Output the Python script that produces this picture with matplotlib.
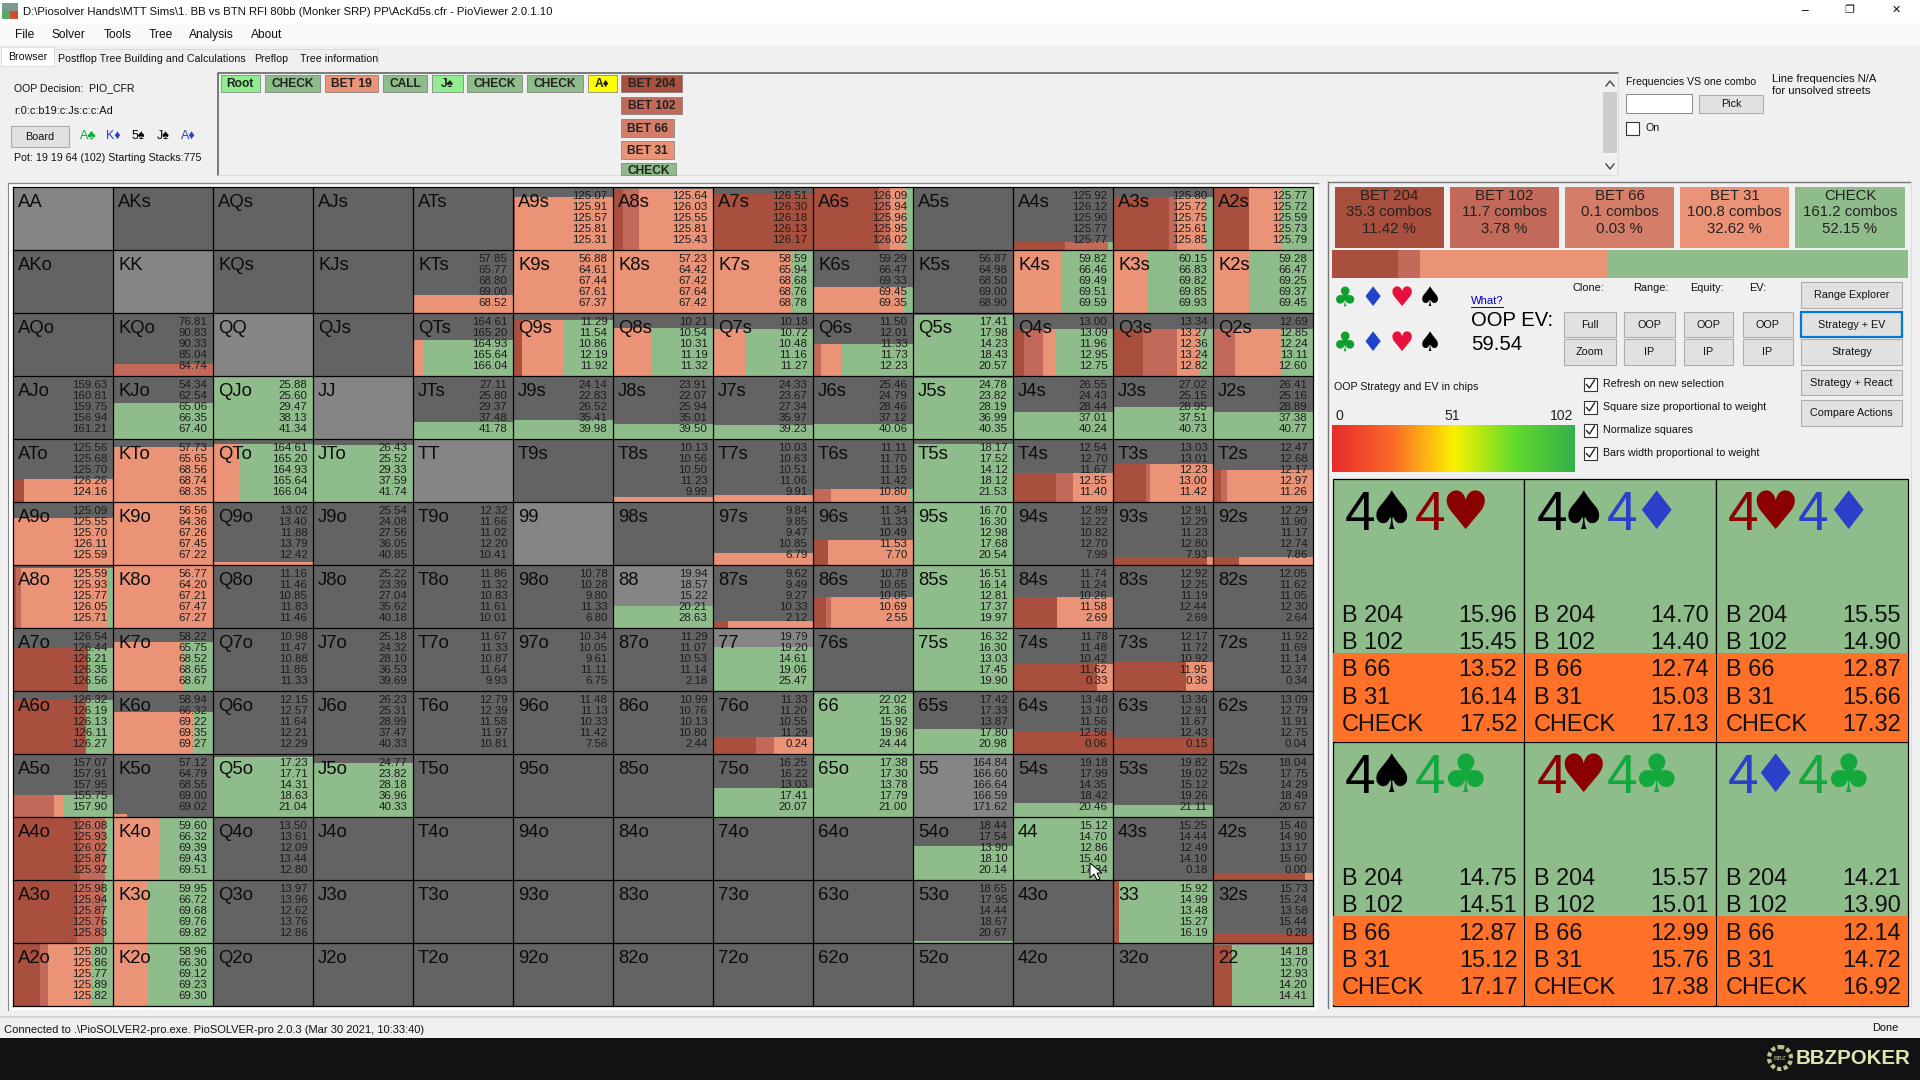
import matplotlib
matplotlib.use("Agg")
import matplotlib.pyplot as plt
from matplotlib.colors import LinearSegmentedColormap
from matplotlib.patches import Rectangle, Polygon, Circle
import numpy as np

plt.rcParams['font.family'] = ['Liberation Sans', 'DejaVu Sans']

RANKS = list("AKQJT98765432")

# colours of the five actions
ACTION_COLORS = ["#a84f3e", "#c2695a", "#d47e69", "#ea9377", "#8fbc8b"]
ACTION_NAMES = ["BET 204", "BET 102", "BET 66", "BET 31", "CHECK"]
ACTION_COMBOS = [35.3, 11.7, 0.1, 100.8, 161.2]
ACTION_PERCENT = [11.42, 3.78, 0.03, 32.62, 52.15]

# EV lines per hand: bet 204, bet 102, bet 66, bet 31, check
EVS = {
    "A9s": [125.07, 125.91, 125.57, 125.81, 125.31], "A8s": [125.64, 126.03, 125.55, 125.81, 125.43],
    "A7s": [126.51, 126.30, 126.18, 126.13, 126.17], "A6s": [126.09, 125.94, 125.96, 125.95, 126.02],
    "A4s": [125.92, 126.12, 125.90, 125.77, 125.77], "A3s": [125.80, 125.72, 125.75, 125.61, 125.85],
    "A2s": [125.77, 125.72, 125.59, 125.73, 125.79],
    "KTs": [57.85, 65.77, 68.80, 69.00, 68.52], "K9s": [56.88, 64.61, 67.44, 67.61, 67.37],
    "K8s": [57.23, 64.42, 67.42, 67.64, 67.42], "K7s": [58.59, 65.94, 68.68, 68.76, 68.78],
    "K6s": [59.29, 66.47, 69.33, 69.45, 69.35], "K5s": [56.87, 64.98, 68.50, 69.00, 68.90],
    "K4s": [59.82, 66.46, 69.49, 69.51, 69.59], "K3s": [60.15, 66.83, 69.82, 69.85, 69.93],
    "K2s": [59.28, 66.47, 69.25, 69.37, 69.45],
    "KQo": [76.81, 90.83, 90.33, 85.04, 84.74], "QTs": [164.61, 165.20, 164.93, 165.64, 166.04],
    "Q9s": [11.29, 11.54, 10.86, 12.19, 11.92], "Q8s": [10.21, 10.54, 10.31, 11.19, 11.32],
    "Q7s": [10.18, 10.72, 10.48, 11.16, 11.27], "Q6s": [11.50, 12.01, 11.33, 11.73, 12.23],
    "Q5s": [17.41, 17.98, 14.23, 18.43, 20.57], "Q4s": [13.00, 13.09, 11.96, 12.95, 12.75],
    "Q3s": [13.34, 13.27, 12.36, 13.24, 12.82], "Q2s": [12.69, 12.85, 12.24, 13.11, 12.60],
    "AJo": [159.63, 160.81, 159.75, 156.94, 161.21], "KJo": [54.34, 62.54, 65.06, 66.35, 67.40],
    "QJo": [25.88, 25.60, 29.47, 38.13, 41.34], "JTs": [27.11, 25.80, 29.37, 37.48, 41.78],
    "J9s": [24.14, 22.83, 26.52, 35.41, 39.98], "J8s": [23.91, 22.07, 25.94, 35.01, 39.50],
    "J7s": [24.33, 23.67, 27.34, 35.97, 39.23], "J6s": [25.46, 24.79, 28.46, 37.12, 40.06],
    "J5s": [24.78, 23.82, 28.19, 36.99, 40.35], "J4s": [26.55, 24.43, 28.44, 37.01, 40.24],
    "J3s": [27.02, 25.15, 28.95, 37.51, 40.73], "J2s": [26.41, 25.16, 28.89, 37.38, 40.77],
    "ATo": [125.56, 125.68, 125.70, 126.26, 124.16], "KTo": [57.73, 65.65, 68.56, 68.74, 68.35],
    "QTo": [164.61, 165.20, 164.93, 165.64, 166.04], "JTo": [26.43, 25.52, 29.33, 37.59, 41.74],
    "T8s": [10.13, 10.56, 10.50, 11.23, 9.99], "T7s": [10.03, 10.63, 10.51, 11.06, 9.91],
    "T6s": [11.11, 11.70, 11.15, 11.42, 10.80], "T5s": [18.17, 17.52, 14.12, 18.12, 21.53],
    "T4s": [12.54, 12.70, 11.67, 12.55, 11.40], "T3s": [13.03, 13.01, 12.23, 13.00, 11.42],
    "T2s": [12.47, 12.68, 12.17, 12.97, 11.26],
    "A9o": [125.09, 125.55, 125.70, 126.11, 125.59], "K9o": [56.56, 64.36, 67.26, 67.45, 67.22],
    "Q9o": [13.02, 13.40, 11.88, 13.79, 12.42], "J9o": [25.54, 24.08, 27.56, 36.05, 40.85],
    "T9o": [12.32, 11.66, 11.02, 12.20, 10.41], "97s": [9.84, 9.85, 9.47, 10.85, 6.79],
    "96s": [11.34, 11.33, 10.49, 11.53, 7.70], "95s": [16.70, 16.30, 12.98, 17.68, 20.54],
    "94s": [12.89, 12.22, 10.82, 12.70, 7.99], "93s": [12.91, 12.29, 11.23, 12.80, 7.93],
    "92s": [12.29, 11.90, 11.17, 12.74, 7.86],
    "A8o": [125.59, 125.93, 125.77, 126.05, 125.71], "K8o": [56.77, 64.20, 67.21, 67.47, 67.27],
    "Q8o": [11.16, 11.46, 10.85, 11.83, 11.46], "J8o": [25.22, 23.39, 27.04, 35.62, 40.18],
    "T8o": [11.86, 11.32, 10.83, 11.61, 10.01], "98o": [10.78, 10.28, 9.80, 11.33, 6.80],
    "88": [19.94, 18.57, 15.22, 20.21, 28.63], "87s": [9.62, 9.49, 9.27, 10.33, 2.12],
    "86s": [10.78, 10.65, 10.05, 10.69, 2.55], "85s": [16.51, 16.14, 12.81, 17.37, 19.97],
    "84s": [11.74, 11.24, 10.26, 11.58, 2.69], "83s": [12.92, 12.25, 11.19, 12.44, 2.69],
    "82s": [12.05, 11.62, 11.05, 12.30, 2.64],
    "A7o": [126.54, 126.44, 126.21, 126.35, 126.56], "K7o": [58.22, 65.75, 68.52, 68.65, 68.67],
    "Q7o": [10.98, 11.47, 10.88, 11.85, 11.33], "J7o": [25.18, 24.32, 28.10, 36.53, 39.69],
    "T7o": [11.67, 11.33, 10.87, 11.64, 9.93], "97o": [10.34, 10.05, 9.61, 11.11, 6.75],
    "87o": [11.29, 11.07, 10.53, 11.14, 2.18], "77": [19.79, 19.20, 14.61, 19.06, 25.47],
    "75s": [16.32, 16.30, 13.03, 17.45, 19.90], "74s": [11.78, 11.48, 10.42, 11.62, 0.33],
    "73s": [12.17, 11.72, 10.92, 11.95, 0.36], "72s": [11.92, 11.69, 11.14, 12.37, 0.34],
    "A6o": [126.32, 126.19, 126.13, 126.11, 126.27], "K6o": [58.94, 66.32, 69.22, 69.35, 69.27],
    "Q6o": [12.15, 12.57, 11.64, 12.21, 12.29], "J6o": [26.23, 25.31, 28.99, 37.47, 40.33],
    "T6o": [12.79, 12.39, 11.58, 11.97, 10.81], "96o": [11.48, 11.13, 10.33, 11.42, 7.56],
    "86o": [10.99, 10.76, 10.13, 10.80, 2.44], "76o": [11.33, 11.20, 10.55, 11.29, 0.24],
    "66": [22.02, 21.36, 15.92, 19.96, 24.44], "65s": [17.42, 17.33, 13.87, 17.80, 20.98],
    "64s": [13.48, 13.10, 11.56, 12.56, 0.06], "63s": [13.36, 12.91, 11.67, 12.43, 0.15],
    "62s": [13.09, 12.79, 11.91, 12.75, 0.04],
    "A5o": [157.07, 157.91, 157.95, 155.75, 157.90], "K5o": [57.12, 64.79, 68.55, 69.00, 69.02],
    "Q5o": [17.23, 17.71, 14.31, 18.63, 21.04], "J5o": [24.77, 23.82, 28.18, 36.96, 40.33],
    "75o": [16.25, 16.22, 13.03, 17.41, 20.07], "65o": [17.38, 17.30, 13.78, 17.79, 21.00],
    "55": [164.84, 166.60, 166.64, 166.59, 171.62], "54s": [19.18, 17.99, 14.35, 18.42, 20.46],
    "53s": [19.82, 19.02, 15.12, 19.26, 21.11], "52s": [18.04, 17.75, 14.29, 18.49, 20.67],
    "A4o": [126.08, 125.93, 126.02, 125.87, 125.92], "K4o": [59.60, 66.32, 69.39, 69.43, 69.51],
    "Q4o": [13.50, 13.61, 12.09, 13.44, 12.80], "54o": [18.44, 17.54, 13.90, 18.10, 20.14],
    "44": [15.12, 14.70, 12.86, 15.40, 17.34], "43s": [15.25, 14.44, 12.49, 14.10, 0.18],
    "42s": [15.40, 14.90, 13.17, 15.60, 0.00],
    "A3o": [125.98, 125.94, 125.87, 125.76, 125.83], "K3o": [59.95, 66.72, 69.68, 69.76, 69.82],
    "Q3o": [13.97, 13.96, 12.62, 13.76, 12.86], "53o": [18.65, 17.95, 14.44, 18.67, 20.67],
    "33": [15.92, 14.99, 13.48, 15.27, 16.19], "32s": [15.73, 15.24, 13.58, 15.44, 0.28],
    "A2o": [125.80, 125.86, 125.77, 125.89, 125.82], "K2o": [58.96, 66.30, 69.12, 69.23, 69.30],
    "22": [14.18, 13.70, 12.93, 14.20, 14.41],
}

# share of the hand in the range (height of the coloured part of a cell)
WEIGHT = {
    "A9s": .84, "A8s": .97, "A7s": .88, "A6s": 1, "A4s": .12, "A3s": .84, "A2s": 1,
    "KTs": .28, "K9s": 1, "K8s": 1, "K7s": 1, "K6s": .41, "K4s": 1, "K3s": 1, "K2s": 1,
    "KQo": .18, "QTs": .56, "Q9s": .89, "Q8s": .76, "Q7s": .74, "Q6s": .5, "Q5s": .97,
    "Q4s": .74, "Q3s": .74, "Q2s": .74,
    "KJo": .57, "QJo": .98, "JTs": .26, "J9s": .29, "J8s": .24, "J7s": .21, "J6s": .23,
    "J5s": .97, "J4s": .43, "J3s": .51, "J2s": .43,
    "ATo": .36, "KTo": .87, "QTo": .92, "JTo": .9, "T8s": .07, "T7s": .1, "T6s": .2,
    "T5s": .91, "T4s": .45, "T3s": .6, "T2s": .5,
    "A9o": .74, "K9o": 1, "Q9o": .04, "97s": .18, "96s": .39, "95s": .98, "93s": .12, "92s": .12,
    "A8o": .94, "K8o": .98, "88": .35, "87s": .1, "86s": .48, "85s": 1, "84s": .49,
    "A7o": .68, "K7o": .77, "77": .7, "75s": .98, "74s": .42, "73s": .46,
    "A6o": .86, "K6o": .66, "76o": .27, "66": .94, "65s": .39, "64s": .36, "63s": .25,
    "A5o": .34, "K5o": .05, "Q5o": .95, "J5o": .85, "75o": .45, "65o": .97, "54s": .22, "53s": .18,
    "A4o": 1, "K4o": 1, "54o": .54, "44": 1, "42s": .1,
    "A3o": 1, "K3o": 1, "53o": .02, "33": 1, "32s": .16,
    "A2o": 1, "K2o": 1, "22": .96,
}

# mixed strategies: bet 204, bet 102, bet 66, bet 31, check. Hands left out are pure check
MIX = {
    "A9s": (.02, 0, 0, .98, 0), "A8s": (.1, .16, 0, .74, 0), "A7s": (1, 0, 0, 0, 0),
    "A6s": (.66, .11, 0, .16, .07), "A4s": (.52, .43, 0, 0, .05), "A3s": (.56, .08, 0, .28, .08),
    "A2s": (.36, 0, 0, .33, .31),
    "KTs": (0, 0, 0, 1, 0), "K9s": (0, 0, 0, 1, 0), "K8s": (0, 0, 0, 1, 0), "K7s": (0, 0, 0, .79, .21),
    "K6s": (0, 0, 0, .91, .09), "K4s": (0, 0, 0, .48, .52), "K3s": (0, 0, 0, .34, .66),
    "K2s": (0, 0, 0, .36, .64),
    "KQo": (0, 1, 0, 0, 0), "QTs": (0, 0, 0, .1, .9), "Q9s": (.09, 0, 0, .42, .49),
    "Q8s": (0, 0, 0, .38, .62), "Q7s": (0, 0, 0, .33, .67), "Q6s": (0, .08, 0, .2, .72),
    "Q4s": (.11, .19, 0, .13, .57), "Q3s": (.3, .34, 0, .22, .14), "Q2s": (0, .22, 0, .47, .31),
    "ATo": (.11, 0, 0, .89, 0), "KTo": (0, 0, 0, 1, 0), "QTo": (0, 0, 0, .27, .73),
    "T8s": (0, 0, 0, 1, 0), "T7s": (0, 0, 0, 1, 0), "T6s": (0, .18, 0, .78, .04),
    "T4s": (.43, .17, 0, .4, 0), "T3s": (.33, .04, 0, .63, 0), "T2s": (.08, .06, 0, .86, 0),
    "A9o": (0, 0, 0, 1, 0), "K9o": (0, 0, 0, 1, 0), "Q9o": (0, 0, 0, 1, 0), "97s": (0, 0, 0, 1, 0),
    "96s": (.15, 0, 0, .85, 0), "93s": (.94, 0, 0, .06, 0), "92s": (.26, 0, 0, .74, 0),
    "A8o": (.03, .05, 0, .86, .06), "K8o": (0, 0, 0, 1, 0), "87s": (.15, 0, 0, .85, 0),
    "86s": (.13, .05, 0, .82, 0), "84s": (.44, 0, 0, .56, 0),
    "A7o": (.75, 0, 0, 0, .25), "K7o": (0, 0, 0, .7, .3), "74s": (.84, 0, 0, .16, 0),
    "73s": (.73, 0, 0, .27, 0),
    "A6o": (.73, 0, 0, 0, .27), "K6o": (0, 0, 0, .8, .2), "76o": (.43, .18, 0, .39, 0),
    "64s": (1, 0, 0, 0, 0), "63s": (1, 0, 0, 0, 0),
    "A5o": (0, .41, 0, .09, .5), "K5o": (0, 0, 0, .14, 0),
    "A4o": (.67, .25, 0, 0, .08), "K4o": (0, 0, 0, .46, .54), "42s": (.92, 0, 0, .08, 0),
    "A3o": (.64, .27, 0, 0, .09), "K3o": (0, 0, 0, .35, .65), "33": (.06, 0, 0, 0, .94),
    "32s": (1, 0, 0, 0, 0),
    "A2o": (.27, .08, 0, .44, .21), "K2o": (0, 0, 0, .35, .65), "22": (.19, 0, 0, 0, .81),
}

# the six combos of the selected hand
COMBO_CARDS = [("♠", "♥"), ("♠", "♦"), ("♥", "♦"), ("♠", "♣"), ("♥", "♣"), ("♦", "♣")]
COMBO_LABELS = ["B 204", "B 102", "B 66", "B 31", "CHECK"]
COMBO_EVS = [
    [15.96, 15.45, 13.52, 16.14, 17.52], [14.70, 14.40, 12.74, 15.03, 17.13],
    [15.55, 14.90, 12.87, 15.66, 17.32], [14.75, 14.51, 12.87, 15.12, 17.17],
    [15.57, 15.01, 12.99, 15.76, 17.38], [14.21, 13.90, 12.14, 14.72, 16.92],
]
SUIT_COLORS = {"♠": "black", "♥": "#8b0000", "♦": "#2a40c8", "♣": "#12a83c"}

GRID_LEFT, GRID_TOP = 12.5, 186.7
CELL_W, CELL_H = 100.0, 63.0
COMBO_LEFT, COMBO_TOP = 1332.6, 479
COMBO_W, COMBO_H = 191.7, 263.4


def px(size):
    return size * 0.72


fig = plt.figure(figsize=(19.2, 10.8), dpi=100)
ax = fig.add_axes([0, 0, 1, 1])
ax.set_xlim(0, 1920)
ax.set_ylim(1080, 0)
ax.axis("off")


def box(x0, y0, x1, y1, color, edge="none", lw=0.0, zorder=1):
    ax.add_patch(Rectangle((x0, y0), x1 - x0, y1 - y0, facecolor=color, edgecolor=edge, linewidth=lw, zorder=zorder))


def label(x, y, s, size=10.6, color="#111111", ha="left", va="center", zorder=5, **kw):
    ax.text(x, y, s, fontsize=px(size), color=color, ha=ha, va=va, zorder=zorder, **kw)


def button(x0, y0, x1, y1, s, size=10.7, edge="#adadad", lw=0.8):
    box(x0, y0, x1, y1, "#e1e1e1", edge, lw, 2)
    label((x0 + x1) / 2, (y0 + y1) / 2, s, size, ha="center")


def checkbox(x, y, s, ticked=True):
    box(x, y - 6.5, x + 13, y + 6.5, "white", "#333333", 0.8, 2)
    if ticked:
        ax.plot([x + 2.5, x + 5.5, x + 10.5], [y + 0.5, y + 4, y - 4], color="#222222", lw=1.0, zorder=3)
    label(x + 19, y, s)


# window
box(0, 0, 1920, 1080, "#f0f0f0", zorder=0)
box(0, 0, 1920, 23, "white")
box(0, 23, 1920, 45, "#f9f9f9")
box(2, 3, 18, 11, "#7d9a8c")
box(2, 11, 10, 19, "#4fae5f")
box(10, 11, 18, 19, "#d84a3a")
label(23, 12, r"D:\Piosolver Hands\MTT Sims\1. BB vs BTN RFI 80bb (Monker SRP) PP\AcKd5s.cfr - PioViewer 2.0.1.10", 11.4)
label(1804, 10, "─", 11, ha="center", family="DejaVu Sans")
label(1849, 10, "❐", 11, ha="center", family="DejaVu Sans")
label(1896, 10, "✕", 11, ha="center", family="DejaVu Sans")

for x, s in zip([15, 52, 104, 149, 189, 251], ["File", "Solver", "Tools", "Tree", "Analysis", "About"]):
    label(x, 35, s, 12)

box(1, 47, 54, 66, "white", "#d9d9d9", 0.6)
ax.plot([54, 378, 378], [49, 49, 65], color="#d9d9d9", lw=0.7, zorder=1)
label(8, 57, "Browser", 10.6)
label(58, 59, "Postflop Tree Building and Calculations", 10.6)
label(254, 59, "Preflop", 10.6)
label(300, 59, "Tree information", 10.6)

# top left panel
label(14, 88, "OOP Decision:  PIO_CFR", 10.5)
label(14, 111, "r:0:c:b19:c:Js:c:c:Ad", 11)
button(11, 126, 69, 147, "Board", 10.7)
for x, s, c in zip([80, 106, 132, 157, 181], ["A♣", "K♦", "5♠", "J♠", "A♦"],
                   ["#12a83c", "#2a40c8", "black", "black", "#2a40c8"]):
    label(x, 136, s, 12.5, c)
label(14, 158, "Pot: 19 19 64 (102) Starting Stacks:775", 10.65)

# game tree buttons
ax.plot([218, 218, 1618], [175, 73, 73], color="#666666", lw=1.2, zorder=2)
ax.plot([1618, 1618, 218], [73, 175, 175], color="#dddddd", lw=0.8, zorder=2)
TREE_BUTTONS = [
    (220.5, 260, 75, 92, "Root", "#90ee90"), (265, 320, 75, 92, "CHECK", "#8fbc8b"),
    (325, 378, 75, 92, "BET 19", "#ea9377"), (383, 427, 75, 92, "CALL", "#8fbc8b"),
    (432, 462.5, 75, 92, "J♠", "#90ee90"), (467, 522, 75, 92, "CHECK", "#8fbc8b"),
    (527, 583, 75, 92, "CHECK", "#8fbc8b"), (587.5, 617, 75, 92, "A♦", "#ffff00"),
    (621, 682, 75, 92, "BET 204", "#a84f3e"), (621, 682, 97, 114, "BET 102", "#c2695a"),
    (621, 674, 119, 137, "BET 66", "#d47e69"), (621, 674, 141, 159, "BET 31", "#ea9377"),
    (621, 676, 163, 175, "CHECK", "#8fbc8b"),
]
for x0, x1, y0, y1, s, c in TREE_BUTTONS:
    box(x0, y0, x1, y1, c, "#777777", 0.5, 2)
    if s == "CHECK" and y0 == 163:
        label((x0 + x1) / 2, y0 + 8, s, 12, ha="center", fontweight="bold", color="#222222")
    else:
        label((x0 + x1) / 2, (y0 + y1) / 2 + 0.5, s, 12, ha="center", fontweight="bold", color="#222222")

# scrollbar and frequency box
box(1602, 74, 1617, 175, "#f0f0f0", zorder=2)
box(1603, 92, 1617, 153, "#cdcdcd", zorder=3)
ax.plot([1606, 1610, 1614], [86, 81, 86], color="#444444", lw=1, zorder=3)
ax.plot([1606, 1610, 1614], [164, 169, 164], color="#444444", lw=1, zorder=3)
label(1626, 82, "Frequencies VS one combo", 10.5)
box(1626, 94, 1692, 113, "white", "#8a8a8a", 0.7, 2)
button(1699, 95, 1763, 113, "Pick")
checkbox(1626, 128, "On", ticked=False)
label(1772, 79, "Line frequencies N/A", 11.2)
label(1772, 91, "for unsolved streets", 11.2)

# hand grid
box(8, 184, 1318, 1010, "white")
ax.plot([8, 8], [184, 1010], color="#888888", lw=0.8, zorder=2)
ax.plot([8, 1318], [183, 183], color="#888888", lw=1.0, zorder=2)
for row, r1 in enumerate(RANKS):
    for col, r2 in enumerate(RANKS):
        if row == col:
            hand = r1 + r2
        elif col > row:
            hand = r1 + r2 + "s"
        else:
            hand = r2 + r1 + "o"
        x0 = GRID_LEFT + col * CELL_W
        y0 = GRID_TOP + row * CELL_H
        box(x0, y0, x0 + CELL_W, y0 + CELL_H, "#858585" if row == col else "#636363")
        if hand in WEIGHT:
            h = WEIGHT[hand] * CELL_H
            left = x0
            for share, color in zip(MIX.get(hand, (0, 0, 0, 0, 1)), ACTION_COLORS):
                if share > 0:
                    ax.bar(left, h, share * CELL_W, y0 + CELL_H - h, align="edge", color=color, linewidth=0, zorder=2)
                left += share * CELL_W
        label(x0 + 5.5, y0 + 20.6, hand, 18.5, "#0c0c0c", va="baseline")
        if hand in EVS:
            for i, ev in enumerate(EVS[hand]):
                label(x0 + CELL_W - 5, y0 + 9.3 + i * 11, f"{ev:.2f}", 11.5, "#1c1c1c", ha="right")

for i in range(14):
    ax.plot([GRID_LEFT + i * CELL_W] * 2, [GRID_TOP, GRID_TOP + 13 * CELL_H], color="black", lw=0.9, zorder=4)
    ax.plot([GRID_LEFT, GRID_LEFT + 13 * CELL_W], [GRID_TOP + i * CELL_H] * 2, color="black", lw=0.9, zorder=4)

# mouse pointer on the 44 cell
ax.add_patch(Polygon([(1090, 863), (1090, 878), (1094, 874), (1097, 880), (1100, 879), (1097, 873), (1102, 873)],
                     facecolor="white", edgecolor="black", linewidth=0.7, zorder=6))

# action summary
ax.plot([1328, 1328], [182, 1008], color="#777777", lw=1.0, zorder=2)
ax.plot([1328, 1911], [182, 182], color="#777777", lw=1.0, zorder=2)
ax.plot([1911, 1911], [182, 1008], color="#dddddd", lw=0.8, zorder=2)
ACTION_BOXES = [(1335, 1443.6), (1450, 1559), (1565, 1674), (1680, 1789), (1795, 1905)]
for (x0, x1), name, combos, pct, color in zip(ACTION_BOXES, ACTION_NAMES, ACTION_COMBOS, ACTION_PERCENT, ACTION_COLORS):
    box(x0, 187, x1, 248, color)
    cx = (x0 + x1) / 2
    label(cx, 196, name, 15, "#222222", ha="center")
    label(cx, 212, f"{combos} combos", 15, "#222222", ha="center")
    label(cx, 229, f"{pct:.2f} %", 15, "#222222", ha="center")

left = 1332.0
for pct, color in zip(ACTION_PERCENT, ACTION_COLORS):
    w = 576 * pct / 100
    ax.barh(264, w, 28, left=left, color=color, linewidth=0, zorder=2)
    left += w

# suit filters
for y in [299, 344]:
    for x, s in zip([1345, 1373, 1402, 1430], ["♣", "♦", "♥", "♠"]):
        c = {"♣": "#0da02e", "♦": "#2244cc", "♥": "#e8103c", "♠": "black"}[s]
        label(x, y, s, 27, c, ha="center", family="DejaVu Sans")

label(1471, 301, "What?", 11.2, "#0000cc")
ax.plot([1471, 1503], [307, 307], color="#0000cc", lw=0.7, zorder=5)
label(1471, 321, "OOP EV:", 20.3, "black")
label(1471, 344, "59.54", 20.3, "black")

for x, s in zip([1572.6, 1633, 1690, 1749], ["Clone:", "Range:", "Equity:", "EV:"]):
    label(x, 288, s, 11)
button(1564, 312, 1616, 337, "Full")
button(1564, 339, 1616, 365, "Zoom")
for x0, x1 in [(1624, 1675), (1683.5, 1733), (1742.5, 1792.6)]:
    button(x0, 312, x1, 337, "OOP")
    button(x0, 339, x1, 365, "IP")
button(1801, 282, 1902, 308, "Range Explorer")
button(1801, 312, 1902, 337, "Strategy + EV", edge="#0078d7", lw=1.6)
button(1801, 339, 1902, 365, "Strategy")
button(1801, 370, 1902, 395, "Strategy + React", 11)
button(1801, 400, 1902, 426, "Compare Actions")

label(1334.5, 387, "OOP Strategy and EV in chips")
for y, s in zip([384, 407, 430, 453], ["Refresh on new selection", "Square size proportional to weight",
                                       "Normalize squares", "Bars width proportional to weight"]):
    checkbox(1584, y, s)

# colour scale
label(1335, 416, "0", 14, "#222222")
label(1452, 416, "51", 14, "#222222", ha="center")
label(1573, 416, "102", 14, "#222222", ha="right")
cmap = LinearSegmentedColormap.from_list("ev", ["#e62b2b", "#fb6a28", "#fbf000", "#62dc2c", "#34b04a"])
ax.imshow(np.linspace(0, 1, 256).reshape(1, -1), cmap=cmap, extent=(1332, 1575, 472, 425), aspect="auto", zorder=2)
ax.set_xlim(0, 1920)
ax.set_ylim(1080, 0)

# combo cells
for n, (suits, evs) in enumerate(zip(COMBO_CARDS, COMBO_EVS)):
    x0 = COMBO_LEFT + (n % 3) * COMBO_W
    y0 = COMBO_TOP + (n // 3) * COMBO_H
    box(x0, y0, x0 + COMBO_W, y0 + COMBO_H, "#8fbc8b", "black", 0.9, 2)
    box(x0 + 0.5, y0 + 174, x0 + COMBO_W - 0.5, y0 + COMBO_H - 0.5, "#ff7028", zorder=3)
    for dx_four, dx_suit, s in [(12, 59, suits[0]), (82, 132, suits[1])]:
        label(x0 + dx_four, y0 + 51, "4", 55, SUIT_COLORS[s], va="baseline")
        label(x0 + dx_suit, y0 + 35, s, 53, SUIT_COLORS[s], ha="center", family="DejaVu Sans")
    for i, (name, ev) in enumerate(zip(COMBO_LABELS, evs)):
        y = y0 + 136 + i * 27.4
        label(x0 + 9.5, y, name, 23.5, "#111111")
        label(x0 + COMBO_W - 7, y, f"{ev:.2f}", 23.5, "#111111", ha="right")

# status bar and logo
ax.plot([0, 1920], [1017, 1017], color="#cfcfcf", lw=1.2, zorder=2)
label(4, 1030, r"Connected to .\PioSOLVER2-pro.exe. PioSOLVER-pro 2.0.3 (Mar 30 2021, 10:33:40)", 11.1)
label(1898, 1028, "Done", 11, ha="right")
box(0, 1038, 1920, 1080, "#111214", zorder=2)
ax.add_patch(Circle((1780, 1058), 11, facecolor="#111214", edgecolor="#b9c48c", linewidth=3, linestyle=(0, (1, 0.6)), zorder=3))
label(1780, 1058, "BBZ", 6.5, "#b9c48c", ha="center", zorder=4)
label(1796, 1058, "BBZPOKER", 20.5, "#dce7b0", fontweight="bold")

fig.savefig("out.png", dpi=100)
